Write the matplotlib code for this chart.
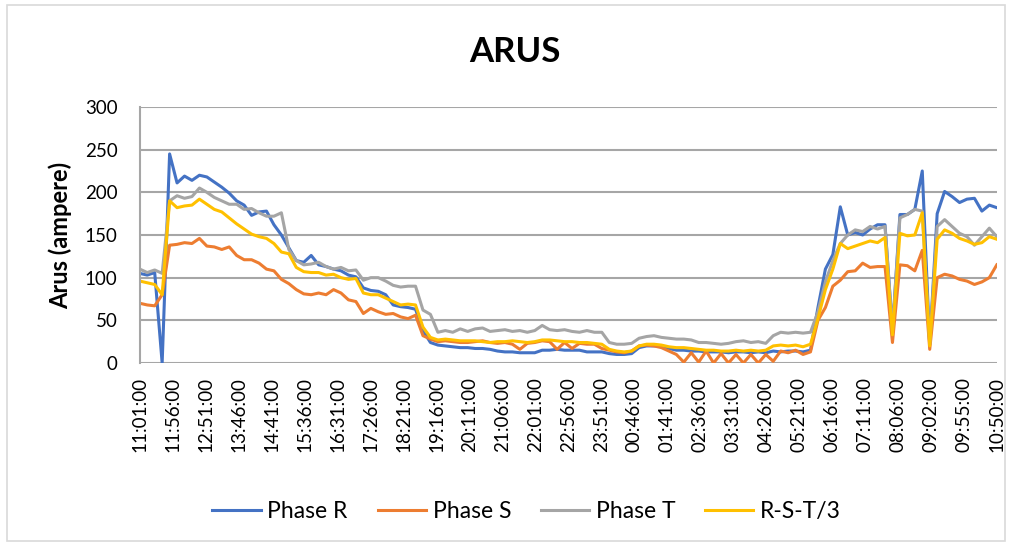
import numpy as np
import matplotlib
matplotlib.use('Agg')
import matplotlib.pyplot as plt
from matplotlib.patches import Rectangle

plt.rcParams['font.family'] = ['Lato', 'DejaVu Sans']

tick_labels = ['11:01:00', '11:56:00', '12:51:00', '13:46:00', '14:41:00', '15:36:00',
               '16:31:00', '17:26:00', '18:21:00', '19:16:00', '20:11:00', '21:06:00',
               '22:01:00', '22:56:00', '23:51:00', '00:46:00', '01:41:00', '02:36:00',
               '03:31:00', '04:26:00', '05:21:00', '06:16:00', '07:11:00', '08:06:00',
               '09:02:00', '09:55:00', '10:50:00']

# readings, evenly spaced between the first and last label
phase_r = [105, 103, 106, 0, 245, 211, 219, 214, 220, 218, 212, 206, 199, 190, 185, 173, 177, 178, 162, 150,
           135, 120, 118, 126, 115, 113, 110, 108, 103, 101, 88, 85, 84, 80, 68, 66, 65, 63, 38, 24,
           21, 20, 19, 18, 18, 17, 17, 16, 14, 13, 13, 12, 12, 12, 15, 15, 16, 15, 15, 15,
           13, 13, 13, 11, 10, 10, 11, 18, 20, 20, 20, 17, 15, 15, 14, 14, 13, 13, 13, 12,
           13, 13, 12, 13, 12, 14, 13, 14, 14, 13, 15, 65, 110, 127, 183, 150, 153, 150, 157, 162,
           162, 38, 174, 174, 180, 225, 22, 175, 201, 195, 188, 192, 193, 178, 185, 182]
phase_s = [70, 68, 67, 80, 138, 139, 141, 140, 146, 137, 136, 133, 136, 126, 121, 121, 117, 110, 108, 98,
           93, 86, 81, 80, 82, 80, 86, 82, 74, 72, 58, 64, 60, 57, 58, 54, 52, 56, 32, 28,
           25, 26, 25, 24, 24, 25, 26, 24, 23, 24, 22, 16, 23, 24, 26, 25, 16, 24, 17, 23,
           22, 22, 17, 15, 13, 12, 14, 20, 21, 20, 18, 14, 10, 1, 12, 1, 14, 0, 11, 0,
           10, 0, 10, 0, 10, 2, 14, 12, 15, 10, 13, 50, 65, 90, 97, 107, 108, 117, 112, 113,
           113, 24, 115, 114, 108, 132, 16, 100, 104, 102, 98, 96, 92, 95, 100, 115]
phase_t = [110, 106, 109, 105, 190, 196, 193, 195, 205, 200, 194, 190, 186, 186, 180, 181, 176, 172, 172, 176,
           133, 120, 115, 116, 118, 113, 110, 112, 108, 109, 97, 100, 100, 96, 91, 89, 90, 90, 62, 57,
           36, 38, 36, 40, 37, 40, 41, 37, 38, 39, 37, 38, 36, 38, 44, 39, 38, 39, 37, 36,
           38, 36, 36, 24, 22, 22, 23, 29, 31, 32, 30, 29, 28, 28, 27, 24, 24, 23, 22, 23,
           25, 26, 24, 25, 23, 32, 36, 35, 36, 35, 36, 60, 95, 120, 140, 150, 156, 154, 160, 157,
           160, 38, 170, 174, 180, 178, 22, 160, 168, 160, 152, 148, 138, 148, 158, 148]
avg_rst = [96, 94, 92, 80, 190, 182, 184, 185, 192, 186, 180, 177, 170, 163, 157, 151, 148, 146, 140, 130,
           128, 112, 107, 106, 106, 103, 104, 100, 98, 99, 82, 80, 80, 76, 72, 68, 69, 68, 42, 30,
           27, 28, 27, 26, 26, 26, 25, 24, 25, 25, 26, 25, 24, 25, 27, 27, 26, 25, 25, 24,
           24, 23, 22, 16, 14, 13, 14, 20, 22, 22, 21, 19, 18, 18, 17, 16, 15, 15, 14, 14,
           15, 14, 15, 14, 15, 20, 21, 20, 21, 19, 22, 52, 86, 110, 140, 134, 137, 140, 143, 141,
           147, 33, 152, 149, 150, 176, 20, 145, 156, 152, 146, 143, 139, 141, 148, 145]

series = [('Phase R', phase_r, '#4472C4'),
          ('Phase S', phase_s, '#ED7D31'),
          ('Phase T', phase_t, '#A5A5A5'),
          ('R-S-T/3', avg_rst, '#FFC000')]

fig = plt.figure(figsize=(10.13, 5.48), dpi=100)
ax = fig.add_axes([0.138, 0.3376, 0.846, 0.4672])

x = np.linspace(0, len(tick_labels) - 1, len(phase_r))
for name, vals, col in series:
    ax.plot(x, vals, color=col, lw=2.2, label=name, solid_joinstyle='round')

ax.set_xlim(0, len(tick_labels) - 1)
ax.set_ylim(0, 300)
ax.set_yticks(range(0, 301, 50))
ax.set_xticks(range(len(tick_labels)))
ax.set_xticklabels(tick_labels, rotation=90, fontsize=13.5)
ax.tick_params(axis='y', length=0, pad=16, labelsize=13.5)
ax.tick_params(axis='x', length=0, pad=10)
ax.grid(axis='y', color='#a6a6a6', lw=1.5)
ax.set_axisbelow(True)
for s in ['top', 'right', 'bottom']:
    ax.spines[s].set_visible(False)
ax.spines['left'].set_color('#a6a6a6')
ax.spines['left'].set_linewidth(1.5)

ax.set_ylabel('Arus (ampere)', fontsize=17, fontweight='bold', labelpad=9)
fig.text(0.508, 0.905, 'ARUS', ha='center', va='center', fontsize=25, fontweight='bold')

fig.legend(loc='center', bbox_to_anchor=(0.52, 0.066), ncol=4, frameon=False,
           fontsize=16.5, handlelength=2.1, columnspacing=1.3, handletextpad=0.3)

fig.patches.append(Rectangle((0.007, 0.012), 0.985, 0.978, transform=fig.transFigure,
                             fill=False, edgecolor='#d9d9d9', lw=1.2))

fig.savefig('out.png', dpi=100)
